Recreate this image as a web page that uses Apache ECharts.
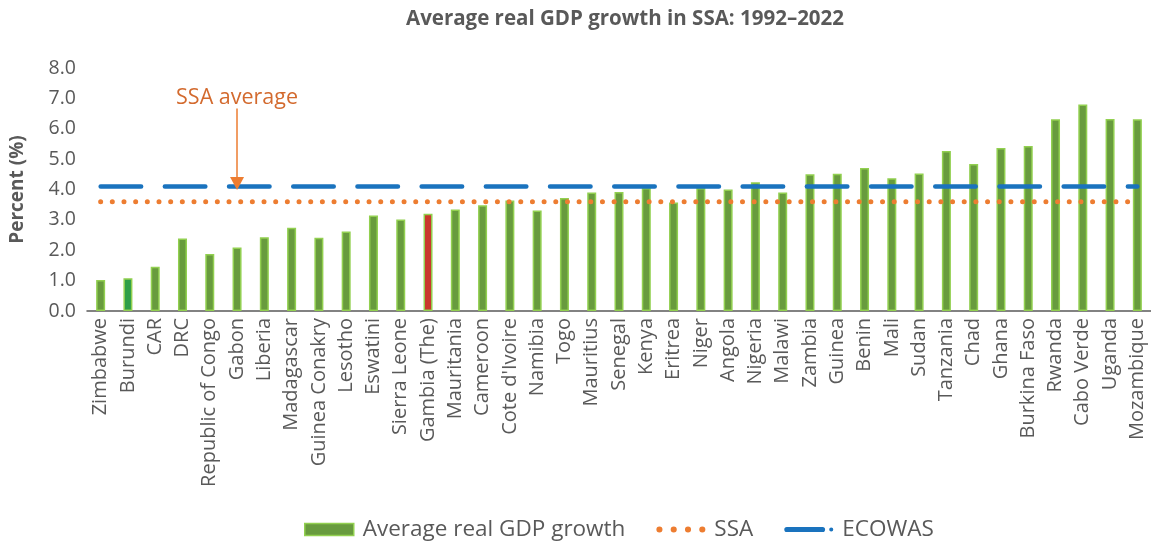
<!DOCTYPE html>
<html>
<head>
<meta charset="utf-8">
<script src="https://cdn.jsdelivr.net/npm/echarts@6/dist/echarts.min.js"></script>
<style>
  html, body { margin: 0; padding: 0; background: #ffffff; }
  #chart { width: 1151px; height: 542px; }
</style>
</head>
<body>
<div id="chart"></div>
<script>
// ---- Data ----
const categories = [
  'Zimbabwe', 'Burundi', 'CAR', 'DRC', 'Republic of Congo', 'Gabon', 'Liberia',
  'Madagascar', 'Guinea Conakry', 'Lesotho', 'Eswatini', 'Sierra Leone', 'Gambia (The)',
  'Mauritania', 'Cameroon', "Cote d'Ivoire", 'Namibia', 'Togo', 'Mauritius', 'Senegal',
  'Kenya', 'Eritrea', 'Niger', 'Angola', 'Nigeria', 'Malawi', 'Zambia', 'Guinea',
  'Benin', 'Mali', 'Sudan', 'Tanzania', 'Chad', 'Ghana', 'Burkina Faso', 'Rwanda',
  'Cabo Verde', 'Uganda', 'Mozambique'
];
const gdpGrowth = [
  1.02, 1.08, 1.46, 2.39, 1.88, 2.09, 2.43,
  2.74, 2.41, 2.62, 3.14, 3.01, 3.20,
  3.34, 3.48, 3.64, 3.31, 3.72, 3.90, 3.92,
  4.05, 3.57, 4.05, 4.00, 4.24, 3.90, 4.50, 4.52,
  4.71, 4.37, 4.53, 5.27, 4.84, 5.37, 5.43, 6.31,
  6.80, 6.32, 6.31
];
const ssaAverage = 3.6;
const ecowasAverage = 4.1;
const yTicks = { min: 0, max: 8, interval: 1 };
const annotation = { category: 'Gabon', from: 6.67, to: 4.2, text: 'SSA average' };

// ---- Styles ----
const FONT = 'Open Sans';
const TEXT = '#595959';
const BAR_FILL = '#689B3E';
const BAR_BORDER = '#92D050';
const SSA_COLOR = '#ED7D31';
const ECOWAS_COLOR = '#1A73BE';
const highlight = { 'Burundi': '#2E9E48', 'Gambia (The)': '#C9372C' };

const ssaIcon = 'path://M0,3a3,3 0 1,0 6,0a3,3 0 1,0 -6,0Z' +
  'M14,3a3,3 0 1,0 6,0a3,3 0 1,0 -6,0Z' +
  'M28,3a3,3 0 1,0 6,0a3,3 0 1,0 -6,0Z' +
  'M42,3a3,3 0 1,0 6,0a3,3 0 1,0 -6,0Z';
const ecowasIcon = 'path://M2.5,0L37.5,0A2.5,2.5 0 0,1 37.5,5L2.5,5A2.5,2.5 0 0,1 2.5,0Z' +
  'M44,2.5a2,2 0 1,0 4,0a2,2 0 1,0 -4,0Z';

const chart = echarts.init(document.getElementById('chart'), null, { renderer: 'canvas' });

chart.setOption({
  animation: false,
  backgroundColor: '#ffffff',
  textStyle: { fontFamily: FONT, color: TEXT },
  title: {
    text: 'Average real GDP growth in SSA: 1992\u20132022',
    left: 620, top: 4, textAlign: 'center',
    textStyle: { fontFamily: FONT, fontSize: 20.5, fontWeight: 'bold', color: TEXT }
  },
  grid: { left: 83, right: -5, top: 68, bottom: 231, containLabel: false },
  legend: {
    bottom: -4, left: 299,
    itemWidth: 49, itemHeight: 12, itemGap: 31,
    textStyle: { fontFamily: FONT, fontSize: 22.5, color: TEXT, padding: [0, 0, 0, 4] },
    data: [
      { name: 'Average real GDP growth', icon: 'rect',
        itemStyle: { color: BAR_FILL, borderColor: BAR_BORDER, borderWidth: 1.5 } },
      { name: 'SSA', icon: ssaIcon, itemStyle: { color: SSA_COLOR } },
      { name: 'ECOWAS', icon: ecowasIcon, itemStyle: { color: ECOWAS_COLOR } }
    ]
  },
  xAxis: {
    type: 'category',
    data: categories,
    axisLine: { lineStyle: { color: '#595959', width: 1.5 } },
    axisTick: { show: false },
    axisLabel: { rotate: 90, interval: 0, margin: 7, fontFamily: FONT, fontSize: 20, color: TEXT }
  },
  yAxis: {
    type: 'value',
    min: yTicks.min, max: yTicks.max, interval: yTicks.interval,
    name: 'Percent (%)', nameLocation: 'middle', nameGap: 60,
    nameTextStyle: { fontFamily: FONT, fontSize: 19, fontWeight: 'bold', color: TEXT },
    axisLine: { show: false }, axisTick: { show: false },
    splitLine: { show: false },
    axisLabel: { margin: 11, fontFamily: FONT, fontSize: 19.5, color: TEXT,
      formatter: v => v.toFixed(1) }
  },
  series: [
    {
      name: 'Average real GDP growth',
      type: 'bar',
      data: gdpGrowth,
      barWidth: 9,
      itemStyle: {
        color: p => highlight[p.name] || BAR_FILL,
        borderColor: BAR_BORDER, borderWidth: 1.5
      },
      z: 2
    },
    {
      name: 'SSA',
      type: 'line',
      data: categories.map(() => ssaAverage),
      symbol: 'none',
      color: SSA_COLOR,
      lineStyle: { color: SSA_COLOR, width: 5, type: [0.01, 11.66], cap: 'round' },
      z: 3,
      markLine: {
        silent: true,
        symbol: ['none', 'triangle'],
        symbolSize: [14, 13],
        lineStyle: { color: SSA_COLOR, width: 1.5, type: 'solid' },
        label: { show: true, position: 'start', distance: 0, formatter: annotation.text,
          fontFamily: FONT, fontSize: 21.5, color: '#D36A2E' },
        data: [[
          { coord: [annotation.category, annotation.from] },
          { coord: [annotation.category, annotation.to] }
        ]]
      }
    },
    {
      name: 'ECOWAS',
      type: 'line',
      data: categories.map(() => ecowasAverage),
      symbol: 'none',
      color: ECOWAS_COLOR,
      lineStyle: { color: ECOWAS_COLOR, width: 4.5, type: [40.5, 23.7], cap: 'round' },
      z: 4
    }
  ]
});
</script>
</body>
</html>
